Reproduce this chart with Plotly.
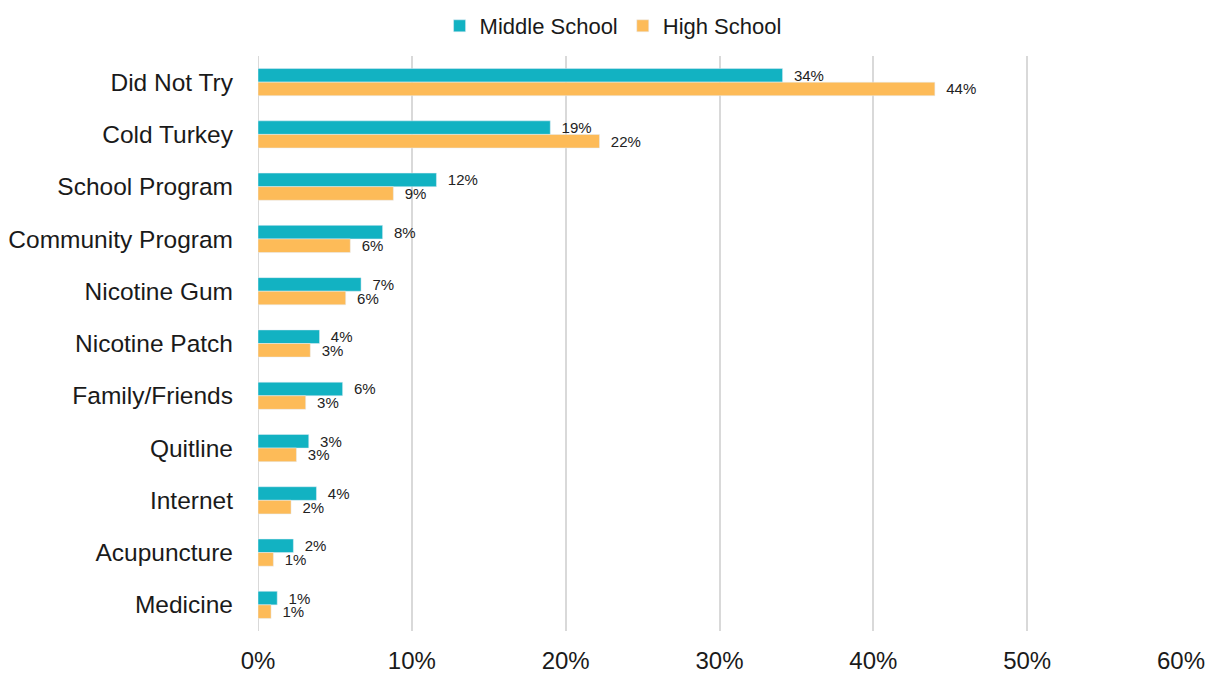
import plotly.graph_objects as go

categories = ["Did Not Try", "Cold Turkey", "School Program", "Community Program",
              "Nicotine Gum", "Nicotine Patch", "Family/Friends", "Quitline",
              "Internet", "Acupuncture", "Medicine"]
middle_school = [34.1, 19.0, 11.6, 8.1, 6.7, 4.0, 5.5, 3.3, 3.8, 2.3, 1.25]
high_school = [44.0, 22.2, 8.8, 6.0, 5.7, 3.4, 3.1, 2.5, 2.15, 1.0, 0.85]
middle_labels = ["34%", "19%", "12%", "8%", "7%", "4%", "6%", "3%", "4%", "2%", "1%"]
high_labels = ["44%", "22%", "9%", "6%", "6%", "3%", "3%", "3%", "2%", "1%", "1%"]
tick_vals = [0, 10, 20, 30, 40, 50, 60]
tick_text = ["0%", "10%", "20%", "30%", "40%", "50%", "60%"]

FONT = "Liberation Sans, Arial, sans-serif"

fig = go.Figure()
fig.add_trace(go.Bar(
    y=categories, x=middle_school, orientation="h", name="Middle School",
    marker=dict(color="#12B2C2"), text=middle_labels, texttemplate="  %{text}",
    textposition="outside",
    textfont=dict(size=15, color="#222222"), cliponaxis=False, constraintext="none",
))
fig.add_trace(go.Bar(
    y=categories, x=high_school, orientation="h", name="High School",
    marker=dict(color="#FDBB58"), text=high_labels, texttemplate="  %{text}",
    textposition="outside",
    textfont=dict(size=15, color="#222222"), cliponaxis=False, constraintext="none",
))

fig.update_layout(
    width=1214, height=675,
    barmode="group", bargap=0.48, bargroupgap=0,
    plot_bgcolor="white", paper_bgcolor="white",
    font=dict(family=FONT, color="#1a1a1a"),
    margin=dict(l=258, r=33, t=56, b=44, autoexpand=False),
    legend=dict(orientation="h", xref="container", yref="container",
                x=0.505, xanchor="center", y=1 - 26 / 675, yanchor="middle",
                font=dict(size=22), traceorder="normal", itemwidth=30),
    xaxis=dict(range=[0, 60], tickvals=tick_vals, ticktext=tick_text,
               showgrid=True, gridcolor="#d9d9d9", gridwidth=2, automargin=False,
               zeroline=False, tickfont=dict(size=24), ticks="", ticklabelstandoff=13),
    yaxis=dict(autorange="reversed", tickfont=dict(size=24.5), ticks="", automargin=False,
               ticklabelstandoff=24, showgrid=False),
)
fig.add_shape(type="line", xref="x", yref="paper", x0=0, x1=0, y0=0, y1=1,
              line=dict(color="#d9d9d9", width=2), layer="below")

fig.write_html("out.html", config={"displayModeBar": False},
               post_script="document.body.style.margin='0';")
